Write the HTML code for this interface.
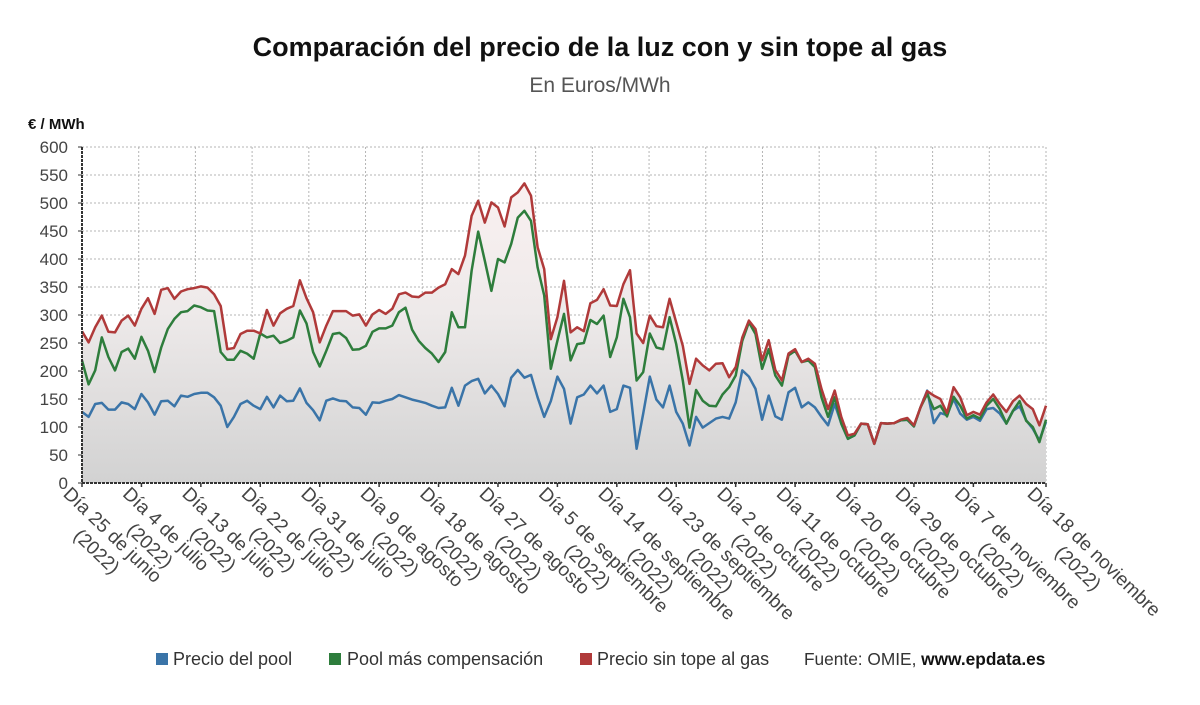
<!DOCTYPE html>
<html><head><meta charset="utf-8">
<style>
body{margin:0;background:#fff;width:1200px;height:705px;overflow:hidden;font-family:"Liberation Sans",sans-serif;}
svg{display:block}
</style></head>
<body>
<svg id="chart" width="1200" height="705" viewBox="0 0 1200 705" xmlns="http://www.w3.org/2000/svg">
<defs>
<linearGradient id="areaGrad" gradientUnits="userSpaceOnUse" x1="0" y1="170" x2="0" y2="483">
<stop offset="0" stop-color="#fbf1f1"/>
<stop offset="0.45" stop-color="#eeeaea"/>
<stop offset="1" stop-color="#d2d2d2"/>
</linearGradient>
</defs>
<text x="600" y="56" text-anchor="middle" font-size="27" font-weight="bold" fill="#111">Comparación del precio de la luz con y sin tope al gas</text>
<text x="600" y="92" text-anchor="middle" font-size="21" fill="#555">En Euros/MWh</text>
<text x="28" y="129" font-size="15" font-weight="bold" fill="#111">€ / MWh</text>
<g id="grid"></g>
<g id="area"></g>
<g id="lines"></g>
<g id="axes"></g>
<g id="xlabels"></g>
<g font-size="18" fill="#333">
<g><rect x="156" y="653" width="12" height="12" fill="#3a74a8"/><text x="173" y="665">Precio del pool</text></g>
<g><rect x="329" y="653" width="12" height="12" fill="#2e7d3c"/><text x="347" y="665">Pool más compensación</text></g>
<g><rect x="580" y="653" width="12" height="12" fill="#b03a3a"/><text x="597" y="665">Precio sin tope al gas</text></g>
<text x="804" y="665" font-size="17.3">Fuente: OMIE, <tspan font-weight="bold" fill="#111">www.epdata.es</tspan></text>
</g>
</svg>
<script>
const yTicks = [0,50,100,150,200,250,300,350,400,450,500,550,600];
const xTickLabels = ["Día 25 de junio","Día 4 de julio","Día 13 de julio","Día 22 de julio","Día 31 de julio","Día 9 de agosto","Día 18 de agosto","Día 27 de agosto","Día 5 de septiembre","Día 14 de septiembre","Día 23 de septiembre","Día 2 de octubre","Día 11 de octubre","Día 20 de octubre","Día 29 de octubre","Día 7 de noviembre","Día 18 de noviembre"];
const xTickIndex = [0,9,18,27,36,45,54,63,72,81,90,99,108,117,126,135,146];
const redValues = [271,251,278,299,270,269,290,299,281,311,330,302,345,348,329,342,346,348,351,349,337,316,239,241,266,272,272,267,309,281,303,311,316,362,330,305,251,
281,307,307,307,299,301,281,301,309,302,311,337,340,333,332,340,340,349,355,382,373,406,477,504,465,501,492,458,510,519,535,513,421,382,257,296,
361,269,278,271,321,327,346,317,316,355,380,267,250,299,280,278,329,287,245,177,222,210,201,213,214,189,207,260,290,275,219,255,202,183,231,239,
216,222,213,168,132,165,118,85,88,106,105,70,107,106,107,113,116,103,135,164,156,150,125,171,153,121,127,122,144,158,141,127,146,156,141,132,103,138];
const greenValues = [219,176,201,260,225,201,234,240,222,261,236,198,242,275,293,305,307,317,314,308,307,234,220,220,236,231,222,267,260,263,250,254,260,308,285,234,208,
236,266,268,259,238,239,245,270,276,276,281,305,313,274,254,241,231,216,234,305,278,278,379,449,397,343,400,394,427,474,486,468,385,335,204,254,
302,219,248,250,291,284,299,225,260,329,296,183,198,267,242,239,296,248,183,99,166,147,138,137,158,171,192,254,287,266,204,239,192,174,228,236,
216,219,207,153,118,153,106,79,85,106,105,70,107,106,107,112,113,101,135,159,132,138,119,154,138,115,121,115,138,150,132,106,129,146,111,100,73,113];
const blueValues = [127,118,141,143,131,131,144,141,132,159,144,122,146,147,137,156,154,159,161,161,153,138,100,118,141,147,138,132,154,135,156,146,147,169,143,130,112,
147,151,147,146,135,134,122,144,143,147,150,157,153,149,146,143,138,134,135,170,138,174,182,186,160,174,159,137,188,202,188,193,153,118,146,190,
168,106,153,158,174,160,174,127,132,174,170,61,124,190,149,135,174,127,106,67,118,99,107,115,118,115,144,201,190,168,113,156,119,113,162,170,
135,144,135,118,103,141,106,79,85,106,105,70,107,106,107,112,113,101,135,165,107,125,121,150,124,113,118,111,132,134,124,106,129,137,112,97,76,109];

const NS="http://www.w3.org/2000/svg";
const X0=82, X1=1046, Y0=483, Y1=147;
function xScale(i){ return X0 + (X1-X0)*i/(redValues.length-1); }
function yScale(v){ return Y0 - (Y0-Y1)*v/600; }
function mk(tag,attrs,parent){const e=document.createElementNS(NS,tag);for(const k in attrs)e.setAttribute(k,attrs[k]);parent.appendChild(e);return e;}

const grid=document.getElementById('grid');
yTicks.forEach(v=>{
  const y=yScale(v);
  if(v>0){
    const l=mk('line',{x1:X0,x2:X1,y1:y,y2:y,stroke:'#b5b5b5','stroke-width':1,'stroke-dasharray':'2,2'},grid);
    
    
  }
  const t=mk('text',{x:68,y:y+6,'text-anchor':'end','font-size':17,fill:'#444'},grid);
  
  
  t.textContent=v;
});
for(let k=1;k<=17;k++){
  const x=X0+(X1-X0)*k/17;
  const l=mk('line',{x1:x,x2:x,y1:Y1,y2:Y0,stroke:'#b5b5b5','stroke-width':1,'stroke-dasharray':'2,2'},grid);
  
  
}

function pts(arr){return arr.map((v,i)=>xScale(i).toFixed(1)+','+yScale(v).toFixed(1));}
const area=document.getElementById('area');
const ap=mk('polygon',{points:X0+','+Y0+' '+pts(redValues).join(' ')+' '+X1+','+Y0,fill:'url(#areaGrad)'},area);



const lines=document.getElementById('lines');
const lb=mk('polyline',{points:pts(blueValues).join(' '),fill:'none',stroke:'#3a74a8','stroke-width':2.5,'stroke-linejoin':'round'},lines);


const lg=mk('polyline',{points:pts(greenValues).join(' '),fill:'none',stroke:'#2e7d3c','stroke-width':2.5,'stroke-linejoin':'round'},lines);


const lr=mk('polyline',{points:pts(redValues).join(' '),fill:'none',stroke:'#b03a3a','stroke-width':2.5,'stroke-linejoin':'round'},lines);



const axes=document.getElementById('axes');
const ya=mk('line',{x1:X0,x2:X0,y1:Y1,y2:Y0,stroke:'#333','stroke-width':2,'stroke-dasharray':'3,1'},axes);


const xa=mk('line',{x1:X0,x2:X1,y1:Y0,y2:Y0,stroke:'#333','stroke-width':2,'stroke-dasharray':'3,1'},axes);


yTicks.forEach(v=>{const y=yScale(v);mk('line',{x1:X0-4,x2:X0,y1:y,y2:y,stroke:'#333','stroke-width':1},axes);});

const xl=document.getElementById('xlabels');
xTickLabels.forEach((lab,k)=>{
  const x=xScale(xTickIndex[k]);
  mk('line',{x1:x,x2:x,y1:Y0,y2:Y0+4,stroke:'#333','stroke-width':1.5},axes);
  const g=mk('g',{transform:'translate('+(x-10)+','+(Y0+2)+') rotate(44)'},xl);
  
  
  const t1=mk('text',{x:0,y:14,'font-size':19,fill:'#444'},g);
  t1.textContent=lab;
  const w=t1.getComputedTextLength();
  const t2=mk('text',{x:w/2,y:37,'font-size':19,fill:'#444','text-anchor':'middle'},g);
  t2.textContent='(2022)';
});
</script>
</body></html>
